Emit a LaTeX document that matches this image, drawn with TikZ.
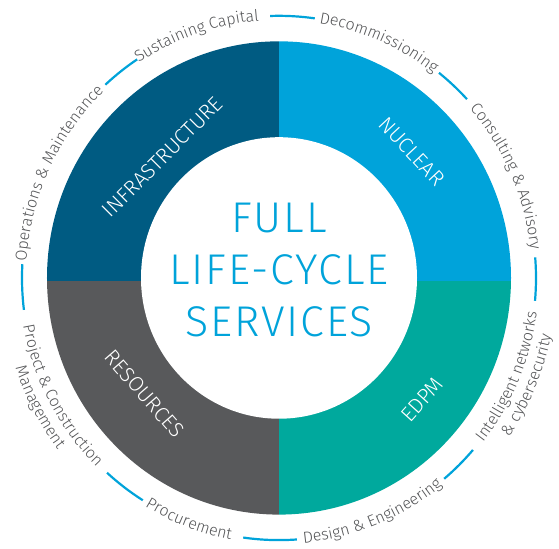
\documentclass[tikz,border=0pt]{standalone}
\usepackage{fontspec}
\setmainfont{Fira Sans Light}
\usepackage{xcolor}
\usetikzlibrary{decorations.text}
\definecolor{infrablue}{HTML}{005B82}
\definecolor{nuclearblue}{HTML}{00A3DA}
\definecolor{edpmteal}{HTML}{00A99D}
\definecolor{resgrey}{HTML}{58595B}
\definecolor{ringgrey}{HTML}{545557}
\newcommand{\ringfont}{\fontsize{16}{16}\selectfont}
\tikzset{%
  % Specifications for style of nodes:
  quadlabel/.style = {text=white, inner sep=0pt,
    font=\fontsize{21}{21}\selectfont},
  centre/.style = {text=nuclearblue, align=center, inner sep=0pt,
    font=\fontsize{43}{52}\selectfont\addfontfeatures{LetterSpace=4.5}},
  ringline/.style = {draw=nuclearblue, line width=2.2pt},
  ringtext/.style = {decorate, decoration={text along path,
      text align=center, text color=ringgrey, text={|\ringfont|#1}}},
}

\begin{document}
\begin{tikzpicture}[x=1pt, y=1.02pt]
    \useasboundingbox (-279,-265.7) rectangle (280,272.5);
    % Quadrants of the ring
    \begin{scope}
      \clip (0,0) circle[radius=232];
      \fill[infrablue] (-240,-2.9) rectangle (0,240);
      \fill[nuclearblue] (0,-2.9) rectangle (240,240);
      \fill[resgrey] (-240,-240) rectangle (0,-2.9);
      \fill[edpmteal] (0,-240) rectangle (240,-2.9);
    \end{scope}
    \fill[white] (0,0) circle[radius=138];
    % Specification of nodes (position, etc.)
    \node(Full)[centre] at (0,7.8) {FULL\\LIFE-CYCLE\\SERVICES};
    \node(Infra)[quadlabel, rotate=45] at (-116.5,118.6) {INFRASTRUCTURE};
    \node(Nuclear)[quadlabel, rotate=-47] at (133,124) {NUCLEAR};
    \node(Resources)[quadlabel, rotate=-49] at (-134.5,-113.7) {RESOURCES};
    \node(Edpm)[quadlabel, rotate=48] at (143,-119) {EDPM};
    % Outer ring: arcs between the services
    \foreach \a/\b in {82/92, 43/51.5, -5/4.5, -50/-41, -98/-86, -132/-122, 177/187, 123.5/132.5}
      \draw[ringline] (\a:257) arc[start angle=\a, end angle=\b, radius=257];
    % Outer ring: services, upper half
    \path[ringtext={Sustaining Capital}] (137:253) arc[start angle=137, end angle=81, radius=253];
    \path[ringtext={Decommissioning}] (95:253) arc[start angle=95, end angle=38.4, radius=253];
    \path[ringtext={Consulting {\&} Advisory}] (53:253) arc[start angle=53, end angle=-5.5, radius=253];
    \path[ringtext={Operations {\&} Maintenance}] (187:253) arc[start angle=187, end angle=123, radius=253];
    % Outer ring: services, lower half
    \path[ringtext={Procurement}] (-140:261) arc[start angle=-140, end angle=-81.4, radius=261];
    \path[ringtext={Design {\&} Engineering}] (-100:261) arc[start angle=-100, end angle=-36, radius=261];
    \path[ringtext={Intelligent networks}] (-55:260) arc[start angle=-55, end angle=9, radius=260];
    \path[ringtext={{\&} cybersecurity}] (-55:278) arc[start angle=-55, end angle=9, radius=278];
    \path[ringtext={Project {\&} Construction}] (-185:260) arc[start angle=-185, end angle=-119, radius=260];
    \path[ringtext={Management}] (-185:278) arc[start angle=-185, end angle=-119, radius=278];
\end{tikzpicture}
\end{document}
